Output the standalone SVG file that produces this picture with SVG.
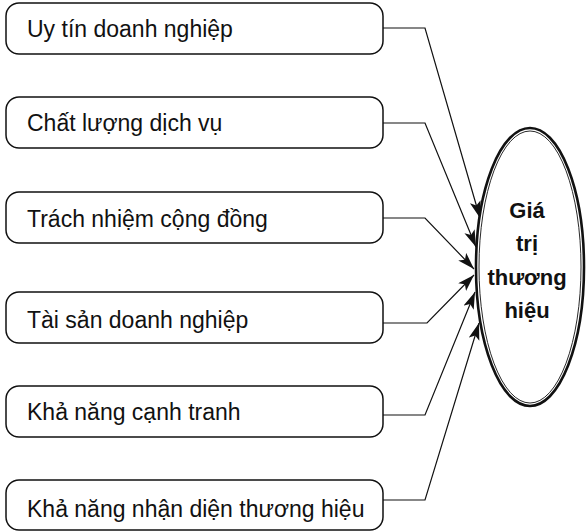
<svg xmlns="http://www.w3.org/2000/svg" width="586" height="532" viewBox="0 0 586 532">
<style>
.box{fill:#fff;stroke:#111;stroke-width:1.5}
.lbl{font-family:"Liberation Sans",Arial,sans-serif;font-size:23px;fill:#111}
.ctr{font-family:"Liberation Sans",Arial,sans-serif;font-size:22px;font-weight:bold;fill:#111;text-anchor:middle}
.con{fill:none;stroke:#111;stroke-width:1.2;marker-end:url(#arr)}
</style>
<defs>
<marker id="arr" markerUnits="userSpaceOnUse" markerWidth="18" markerHeight="12" refX="17" refY="5.5" orient="auto">
<path d="M0,0 L17,5.5 L0,11 L4,5.5 Z" fill="#111"/>
</marker>
</defs>
<rect width="586" height="532" fill="#fff"/>
<g id="connectors">
<polyline class="con" points="383,28 425,28 480,218"/>
<polyline class="con" points="383,123 425,123 476,247"/>
<polyline class="con" points="383,218 425,218 474,269"/>
<polyline class="con" points="383,323 427,323 474,275"/>
<polyline class="con" points="383,415 425,415 475,292"/>
<polyline class="con" points="383,500 425,500 479,323"/>
</g>
<g id="n1"><rect class="box" x="6" y="3" width="377" height="51" rx="13"/><text class="lbl" x="27" y="37">Uy tín doanh nghiệp</text></g>
<g id="n2"><rect class="box" x="6" y="97" width="377" height="51" rx="13"/><text class="lbl" x="27" y="131">Chất lượng dịch vụ</text></g>
<g id="n3"><rect class="box" x="6" y="192" width="377" height="51" rx="13"/><text class="lbl" x="27" y="227">Trách nhiệm cộng đồng</text></g>
<g id="n4"><rect class="box" x="6" y="292" width="377" height="51" rx="13"/><text class="lbl" x="27" y="328">Tài sản doanh nghiệp</text></g>
<g id="n5"><rect class="box" x="6" y="386" width="377" height="51" rx="13"/><text class="lbl" x="27" y="420">Khả năng cạnh tranh</text></g>
<g id="n6"><rect class="box" x="6" y="480" width="377" height="50" rx="13"/><text class="lbl" x="27" y="517">Khả năng nhận diện thương hiệu</text></g>
<g id="center">
<ellipse cx="530" cy="267" rx="54" ry="139" fill="#fff" stroke="#111" stroke-width="2.6"/>
<ellipse cx="530" cy="267" rx="51" ry="136" fill="none" stroke="#111" stroke-width="0.9"/>
<text class="ctr" x="527" y="218">Giá</text>
<text class="ctr" x="527" y="251">trị</text>
<text class="ctr" x="527" y="285">thương</text>
<text class="ctr" x="527" y="318">hiệu</text>
</g>
</svg>
